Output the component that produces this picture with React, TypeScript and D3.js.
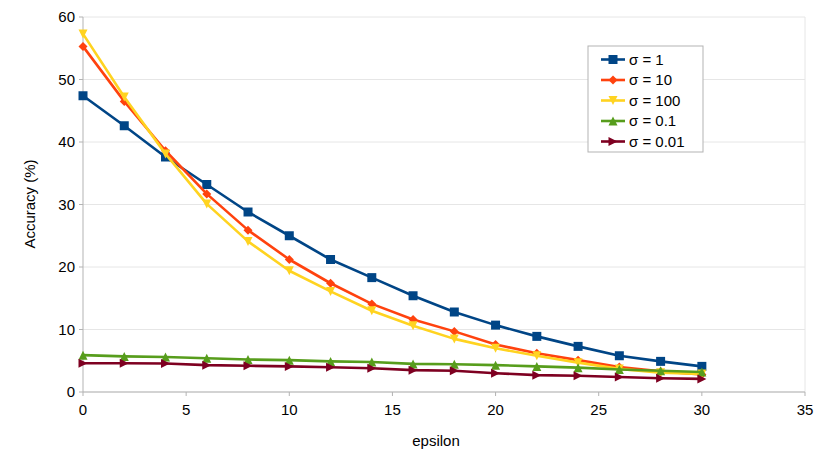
import * as d3 from 'd3';

const EPSILON = [0, 2, 4, 6, 8, 10, 12, 14, 16, 18, 20, 22, 24, 26, 28, 30];

const SIGMA_1 = [47.4, 42.6, 37.6, 33.2, 28.8, 25.0, 21.2, 18.3, 15.4, 12.8, 10.7, 8.9, 7.3, 5.8, 4.9, 4.1];
const SIGMA_10 = [55.3, 46.5, 38.6, 31.7, 25.9, 21.2, 17.4, 14.1, 11.6, 9.7, 7.6, 6.2, 5.1, 4.0, 3.3, 2.8];
const SIGMA_100 = [57.3, 47.2, 38.1, 30.1, 24.1, 19.4, 16.1, 13.0, 10.6, 8.5, 7.0, 5.8, 4.7, 3.7, 3.1, 2.9];
const SIGMA_01 = [5.9, 5.7, 5.6, 5.4, 5.2, 5.1, 4.9, 4.8, 4.5, 4.45, 4.3, 4.1, 3.9, 3.6, 3.4, 3.2];
const SIGMA_001 = [4.6, 4.6, 4.55, 4.3, 4.2, 4.1, 3.95, 3.8, 3.5, 3.4, 3.0, 2.7, 2.6, 2.4, 2.2, 2.1];

const X_TICKS = [0, 5, 10, 15, 20, 25, 30, 35];
const Y_TICKS = [0, 10, 20, 30, 40, 50, 60];

type Shape = 'square' | 'diamond' | 'down' | 'up' | 'right';

const SERIES: { label: string; color: string; shape: Shape; values: number[] }[] = [
  { label: 'σ = 1', color: '#004586', shape: 'square', values: SIGMA_1 },
  { label: 'σ = 10', color: '#ff420e', shape: 'diamond', values: SIGMA_10 },
  { label: 'σ = 100', color: '#ffd320', shape: 'down', values: SIGMA_100 },
  { label: 'σ = 0.1', color: '#579d1c', shape: 'up', values: SIGMA_01 },
  { label: 'σ = 0.01', color: '#7e0021', shape: 'right', values: SIGMA_001 },
];

const W = 830;
const H = 468;
const margin = { top: 17, right: 25, bottom: 76, left: 83 };
const FONT = '"Liberation Sans", Arial, sans-serif';

function markerPath(shape: Shape, cx: number, cy: number): string {
  const s = 4.5;
  switch (shape) {
    case 'square':
      return `M${cx - s},${cy - s}h${2 * s}v${2 * s}h${-2 * s}Z`;
    case 'diamond':
      return `M${cx},${cy - s}L${cx + s},${cy}L${cx},${cy + s}L${cx - s},${cy}Z`;
    case 'down':
      return `M${cx - s},${cy - s}L${cx + s},${cy - s}L${cx},${cy + s}Z`;
    case 'up':
      return `M${cx - s},${cy + s}L${cx + s},${cy + s}L${cx},${cy - s}Z`;
    case 'right':
      return `M${cx - s},${cy - s}L${cx + s},${cy}L${cx - s},${cy + s}Z`;
  }
}

export default function App() {
  const innerW = W - margin.left - margin.right;
  const innerH = H - margin.top - margin.bottom;

  const x = d3.scaleLinear().domain([0, 35]).range([margin.left, margin.left + innerW]);
  const y = d3.scaleLinear().domain([0, 60]).range([margin.top + innerH, margin.top]);

  const line = d3.line<number>()
    .x((_, i) => x(EPSILON[i]))
    .y(d => y(d));

  const legendX = 588;
  const legendY = 46;
  const rowH = 20.5;

  return (
    <svg width={W} height={H} style={{ position: 'absolute', left: 0, top: 0, background: '#fff' }} fontFamily={FONT}>
      {/* grid */}
      {Y_TICKS.map(t => (
        <line key={'gy' + t} x1={x(0)} x2={x(35)} y1={y(t)} y2={y(t)} stroke="#e6e6e6" strokeWidth={1} />
      ))}
      <line x1={x(35)} x2={x(35)} y1={y(0)} y2={y(60)} stroke="#e6e6e6" strokeWidth={1} />

      {/* axes */}
      <line x1={x(0)} x2={x(0)} y1={y(0)} y2={y(60)} stroke="#b3b3b3" strokeWidth={1} />
      <line x1={x(0)} x2={x(35)} y1={y(0)} y2={y(0)} stroke="#b3b3b3" strokeWidth={1} />
      {Y_TICKS.map(t => (
        <g key={'ty' + t}>
          <line x1={x(0) - 4} x2={x(0)} y1={y(t)} y2={y(t)} stroke="#b3b3b3" />
          <text x={x(0) - 8} y={y(t)} dy="0.36em" textAnchor="end" fontSize={15} fill="#000">{t}</text>
        </g>
      ))}
      {X_TICKS.map(t => (
        <g key={'tx' + t}>
          <line x1={x(t)} x2={x(t)} y1={y(0)} y2={y(0) + 4} stroke="#b3b3b3" />
          <text x={x(t)} y={y(0) + 23} textAnchor="middle" fontSize={15} fill="#000">{t}</text>
        </g>
      ))}

      {/* axis titles */}
      <text x={436} y={446} textAnchor="middle" fontSize={15} fill="#000">epsilon</text>
      <text transform="translate(35,204) rotate(-90)" textAnchor="middle" fontSize={15} fill="#000">Accuracy (%)</text>

      {/* series */}
      {SERIES.map(s => (
        <g key={s.label}>
          <path d={line(s.values) || ''} fill="none" stroke={s.color} strokeWidth={2.6} strokeLinejoin="round" />
          {s.values.map((v, i) => (
            <path key={i} d={markerPath(s.shape, x(EPSILON[i]), y(v))} fill={s.color} />
          ))}
        </g>
      ))}

      {/* legend */}
      <rect x={legendX} y={legendY} width={115} height={106} fill="#fff" stroke="#b3b3b3" strokeWidth={1} />
      {SERIES.map((s, i) => {
        const cy = legendY + 13.5 + i * rowH;
        return (
          <g key={'lg' + s.label}>
            <line x1={601} x2={625} y1={cy} y2={cy} stroke={s.color} strokeWidth={2.6} />
            <path d={markerPath(s.shape, 613, cy)} fill={s.color} />
            <text x={629} y={cy} dy="0.36em" fontSize={15} fill="#000">{s.label}</text>
          </g>
        );
      })}
    </svg>
  );
}
